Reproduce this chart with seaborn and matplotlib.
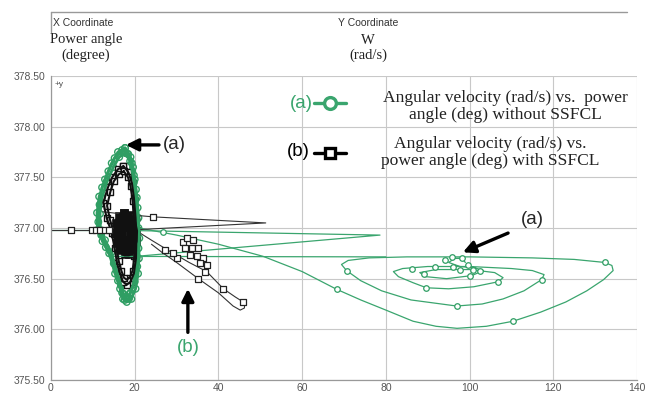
import numpy as np
import pandas as pd
import seaborn as sns
import matplotlib
matplotlib.use("Agg")
import matplotlib.pyplot as plt

sns.set_style("white")
plt.rcParams['font.family'] = ['Liberation Sans', 'DejaVu Sans']

GREEN = '#2f9e63'
GREEN_L = '#3aa56e'
BLACK = '#111111'

# ---------------- data ----------------
x_ticks = [0, 20, 40, 60, 80, 100, 120, 140]
y_ticks = [375.5, 376.0, 376.5, 377.0, 377.5, 378.0, 378.5]

# (a) without SSFCL -- green
g_flat_x = [0, 11.5]
g_flat_y = [376.98, 376.98]

g_ell1_x = [17.7, 19.0, 19.6, 20.0, 20.5, 20.9, 21.1, 21.0, 20.8, 20.2, 19.2, 18.1, 17.2, 16.5, 15.3, 13.9, 12.3, 11.1, 11.0, 11.5, 12.9, 14.5, 16.0, 17.7]
g_ell1_y = [377.79, 377.70, 377.60, 377.48, 377.30, 377.10, 376.90, 376.70, 376.55, 376.40, 376.30, 376.27, 376.30, 376.40, 376.55, 376.75, 376.87, 376.98, 377.15, 377.31, 377.48, 377.64, 377.75, 377.79]
g_ell2_x = [17.8, 18.9, 19.4, 19.8, 20.2, 20.5, 20.6, 20.5, 20.2, 19.6, 18.8, 18.0, 17.3, 16.7, 15.7, 14.4, 12.9, 11.8, 11.7, 12.2, 13.4, 14.9, 16.3, 17.8]
g_ell2_y = [377.74, 377.66, 377.56, 377.45, 377.28, 377.08, 376.90, 376.72, 376.58, 376.44, 376.35, 376.32, 376.35, 376.44, 376.58, 376.76, 376.88, 376.98, 377.14, 377.30, 377.46, 377.60, 377.70, 377.74]
g_ell3_x = [18.4, 19.3, 19.8, 20.3, 20.7, 20.9, 20.9, 20.6, 20.0, 19.0, 18.6, 17.6, 17.0, 16.0, 15.0, 13.1, 12.0, 11.3, 11.6, 12.2, 13.7, 15.2, 17.0, 18.4]
g_ell3_y = [377.73, 377.64, 377.52, 377.38, 377.20, 377.00, 376.80, 376.62, 376.47, 376.36, 376.30, 376.29, 376.36, 376.48, 376.65, 376.81, 376.93, 377.06, 377.23, 377.40, 377.56, 377.69, 377.77, 377.73]

g_spike_x = [20.3, 78.6, 19.5]
g_spike_y = [376.72, 376.93, 376.975]

g_hline_x = [14.0, 80.0]
g_hline_y = [376.72, 376.715]

g_spiral_x = [21.0, 30, 40, 50.7, 60, 68.25, 74, 80, 86.5, 92, 97, 104, 110.4, 117, 123, 128, 132, 134.3, 134, 132.3, 125, 115, 100, 85, 76, 71, 69.4, 70.6, 74, 79, 86, 96.9, 103, 108, 113, 117.2, 117.8, 115, 110, 100, 90, 84, 81.8, 83, 86.5, 89.7, 95, 101, 106.9, 108, 106, 100, 92, 88.1, 89.5, 94.5, 100.5, 103.3, 101, 97.7, 95, 96.5, 98.1, 99]
g_spiral_y = [377.0, 376.93, 376.84, 376.72, 376.57, 376.395, 376.29, 376.19, 376.08, 376.03, 376.01, 376.03, 376.08, 376.17, 376.27, 376.38, 376.49, 376.58, 376.63, 376.66, 376.69, 376.705, 376.715, 376.715, 376.705, 376.68, 376.64, 376.58, 376.48, 376.38, 376.29, 376.23, 376.25, 376.30, 376.38, 376.49, 376.54, 376.58, 376.60, 376.62, 376.62, 376.60, 376.57, 376.52, 376.46, 376.41, 376.40, 376.42, 376.47, 376.51, 376.56, 376.59, 376.59, 376.56, 376.52, 376.50, 376.53, 376.58, 376.61, 376.62, 376.66, 376.70, 376.70, 376.66]

g_mark_x = [26.8, 68.25, 70.6, 86.2, 89.1, 89.7, 91.7, 94.1, 95.7, 98.1, 96.1, 97.7, 99.7, 100.1, 100.9, 96.9, 106.9, 110.4, 117.2, 132.3, 102.5]
g_mark_y = [376.96, 376.395, 376.58, 376.60, 376.55, 376.41, 376.62, 376.68, 376.71, 376.70, 376.62, 376.59, 376.63, 376.53, 376.59, 376.23, 376.47, 376.08, 376.49, 376.66, 376.58]

# (b) with SSFCL -- black
b_flat_x = [0, 14.0]
b_flat_y = [376.98, 376.98]
b_flat_mx = [4.8, 9.8, 10.8, 11.8, 12.8, 13.8]
b_flat_my = [376.98, 376.98, 376.98, 376.98, 376.98, 376.98]

b_ell1_x = [17.3, 18.5, 19.3, 19.8, 20.2, 20.4, 20.3, 19.8, 19.0, 18.1, 17.2, 16.5, 15.8, 15.2, 14.5, 13.3, 12.5, 13.6, 14.6, 16.0, 17.3]
b_ell1_y = [377.61, 377.55, 377.45, 377.30, 377.10, 376.90, 376.70, 376.55, 376.47, 376.44, 376.47, 376.55, 376.65, 376.80, 376.95, 377.10, 377.25, 377.40, 377.50, 377.58, 377.61]
b_ell2_x = [17.4, 18.4, 19.0, 19.5, 19.8, 20.0, 19.9, 19.5, 18.8, 18.1, 17.4, 16.8, 16.2, 15.7, 15.1, 14.1, 13.4, 14.2, 15.0, 16.2, 17.4]
b_ell2_y = [377.56, 377.50, 377.41, 377.27, 377.08, 376.90, 376.72, 376.58, 376.51, 376.49, 376.51, 376.58, 376.67, 376.80, 376.94, 377.08, 377.22, 377.36, 377.46, 377.53, 377.56]

b_blob1_x = [17.5, 18.8, 19.8, 20.3, 20.2, 19.6, 18.6, 17.6, 16.6, 15.8, 15.3, 15.5, 16.3, 17.5]
b_blob1_y = [377.15, 377.13, 377.07, 376.97, 376.87, 376.79, 376.74, 376.74, 376.78, 376.85, 376.95, 377.05, 377.12, 377.15]
b_blob2_x = [17.6, 18.7, 19.4, 19.6, 19.2, 18.4, 17.5, 16.7, 16.2, 16.4, 17.0, 17.6]
b_blob2_y = [377.09, 377.06, 377.00, 376.92, 376.84, 376.80, 376.79, 376.83, 376.92, 377.01, 377.07, 377.09]
b_blob3_x = [17.7, 18.5, 18.9, 18.6, 17.8, 17.1, 16.9, 17.2, 17.7]
b_blob3_y = [377.03, 377.01, 376.95, 376.88, 376.85, 376.88, 376.95, 377.01, 377.03]

b_spike_x = [12.4, 18.9, 24.4, 51.3, 19.0]
b_spike_y = [377.16, 377.13, 377.11, 377.05, 376.98]

b_loop_x = [20.5, 24.0, 28.4, 33.0, 37.2, 41.2, 44.0, 46.3, 46.2, 45.2, 43.5, 40.0, 35.2, 30.0, 26.5, 24.0]
b_loop_y = [376.97, 376.88, 376.77, 376.66, 376.57, 376.40, 376.32, 376.26, 376.21, 376.19, 376.23, 376.36, 376.50, 376.66, 376.76, 376.84]

b_mark_x = [24.4, 27.2, 30.0, 29.2, 31.6, 32.4, 34.0, 32.0, 33.6, 35.2, 33.2, 34.8, 36.4, 35.6, 37.2, 36.8, 35.2, 41.2, 45.9]
b_mark_y = [377.11, 376.78, 376.70, 376.75, 376.86, 376.90, 376.88, 376.80, 376.80, 376.80, 376.73, 376.72, 376.70, 376.65, 376.63, 376.57, 376.50, 376.40, 376.27]


def seg_df(pairs):
    rows = []
    for name, xs, ys in pairs:
        for i, (xv, yv) in enumerate(zip(xs, ys)):
            rows.append({'x': xv, 'y': yv, 'seg': name, 'i': i})
    return pd.DataFrame(rows)


fig = plt.figure(figsize=(6.48, 3.94), dpi=100)
ax = fig.add_axes([51/648, 1-380/394, 586/648, 304/394])

# green thin lines
g_lines = seg_df([('flat', g_flat_x, g_flat_y), ('spike', g_spike_x, g_spike_y),
                  ('hline', g_hline_x, g_hline_y), ('spiral', g_spiral_x, g_spiral_y)])
sns.lineplot(data=g_lines, x='x', y='y', units='seg', estimator=None, sort=False,
             color=GREEN_L, lw=0.9, ax=ax, legend=False)

# black thin lines
b_lines = seg_df([('flat', b_flat_x, b_flat_y), ('spike', b_spike_x, b_spike_y),
                  ('loop', b_loop_x, b_loop_y)])
sns.lineplot(data=b_lines, x='x', y='y', units='seg', estimator=None, sort=False,
             color='#333333', lw=0.8, ax=ax, legend=False)

# green ellipse
g_ell = seg_df([('e1', g_ell1_x, g_ell1_y), ('e2', g_ell2_x, g_ell2_y), ('e3', g_ell3_x, g_ell3_y)])
sns.lineplot(data=g_ell, x='x', y='y', units='seg', estimator=None, sort=False,
             color=GREEN, lw=2.0, ax=ax, legend=False)
sns.scatterplot(data=g_ell, x='x', y='y', marker='o', s=22, facecolor='none',
                edgecolor=GREEN, linewidth=1.0, ax=ax, legend=False)

# black ellipse
b_ell = seg_df([('e1', b_ell1_x, b_ell1_y), ('e2', b_ell2_x, b_ell2_y)])
sns.lineplot(data=b_ell, x='x', y='y', units='seg', estimator=None, sort=False,
             color=BLACK, lw=1.5, ax=ax, legend=False)
sns.scatterplot(data=b_ell, x='x', y='y', marker='s', s=18, facecolor='white',
                edgecolor=BLACK, linewidth=1.0, ax=ax, legend=False)

# black dense blob
b_blob = seg_df([('k1', b_blob1_x, b_blob1_y), ('k2', b_blob2_x, b_blob2_y), ('k3', b_blob3_x, b_blob3_y)])
sns.lineplot(data=b_blob, x='x', y='y', units='seg', estimator=None, sort=False,
             color=BLACK, lw=3, ax=ax, legend=False)
sns.scatterplot(data=b_blob, x='x', y='y', marker='s', s=30, color=BLACK,
                edgecolor=BLACK, ax=ax, legend=False)

# sparse markers
sns.scatterplot(x=g_mark_x, y=g_mark_y, marker='o', s=16, facecolor='white',
                edgecolor=GREEN, linewidth=0.9, ax=ax, legend=False, zorder=4)
sns.scatterplot(x=b_mark_x, y=b_mark_y, marker='s', s=18, facecolor='white',
                edgecolor='#222222', linewidth=0.9, ax=ax, legend=False, zorder=4)
sns.scatterplot(x=b_flat_mx, y=b_flat_my, marker='s', s=18, facecolor='white',
                edgecolor='#222222', linewidth=0.9, ax=ax, legend=False, zorder=4)

# axes styling
ax.set_xlim(0, 140)
ax.set_ylim(375.5, 378.5)
ax.set_xticks(x_ticks)
ax.set_yticks(y_ticks)
ax.set_xticklabels([str(v) for v in x_ticks])
ax.set_yticklabels([f'{v:.2f}' for v in y_ticks])
ax.grid(True, color='#c8c8c8', lw=0.8)
ax.set_axisbelow(True)
for s in ['top', 'right']:
    ax.spines[s].set_visible(False)
for s in ['left', 'bottom']:
    ax.spines[s].set_color('#999999')
    ax.spines[s].set_linewidth(0.9)
ax.tick_params(axis='both', colors='#999999', labelcolor='#555555', labelsize=7.5,
               length=3, width=0.8, pad=1)
ax.tick_params(axis='x', pad=0, length=2)
ax.set_xlabel('')
ax.set_ylabel('')
ax.text(0.006, 0.985, '+y', transform=ax.transAxes, fontsize=6, color='#555555',
        va='top', ha='left')

# annotations
arrow = dict(arrowstyle='-|>', lw=2.4, color='black', mutation_scale=18, shrinkA=0, shrinkB=0)
ax.annotate('', xy=(17.9, 377.82), xytext=(25.8, 377.82), arrowprops=arrow)
ax.text(26.8, 377.82, '(a)', fontsize=13.5, va='center', ha='left')
ax.annotate('', xy=(98.4, 376.76), xytext=(109.2, 376.95), arrowprops=arrow)
ax.text(115.1, 377.08, '(a)', fontsize=13.5, va='center', ha='center')
ax.annotate('', xy=(32.7, 376.40), xytext=(32.7, 375.97), arrowprops=arrow)
ax.text(32.7, 375.82, '(b)', fontsize=13.5, va='center', ha='center', color=GREEN_L)

# legend drawn in axes fraction
ax.text(0.4266, 0.911, '(a)', transform=ax.transAxes, fontsize=13.5, color=GREEN_L,
        ha='center', va='center')
ax.plot([0.449, 0.503], [0.911, 0.911], transform=ax.transAxes, color=GREEN_L, lw=2.4)
ax.plot([0.476], [0.911], transform=ax.transAxes, marker='o', ms=8.5, mfc='white',
        mec=GREEN_L, mew=2.4)
ax.text(0.775, 0.9, 'Angular velocity (rad/s) vs.  power\nangle (deg) without SSFCL',
        transform=ax.transAxes, fontsize=12.6, family='Liberation Serif', ha='center',
        va='center', linespacing=1.08, color='#222222')
ax.text(0.4215, 0.750, '(b)', transform=ax.transAxes, fontsize=13.5, color='black',
        ha='center', va='center')
ax.plot([0.449, 0.503], [0.747, 0.747], transform=ax.transAxes, color='black', lw=2.4)
ax.plot([0.476], [0.747], transform=ax.transAxes, marker='s', ms=7, mfc='white',
        mec='black', mew=2.4)
ax.text(0.749, 0.747, 'Angular velocity (rad/s) vs.\npower angle (deg) with SSFCL',
        transform=ax.transAxes, fontsize=12.6, family='Liberation Serif', ha='center',
        va='center', linespacing=1.08, color='#222222')

# header
fig.add_artist(plt.Line2D([51/648, 627/648], [1-12/394, 1-12/394], color='#999999', lw=1.0))
fig.add_artist(plt.Line2D([51/648, 51/648], [1-12/394, 1-32/394], color='#999999', lw=1.0))
fig.text(53/648, 1-23/394, 'X Coordinate', fontsize=7.5, color='#333333', va='center', ha='left')
fig.text(368/648, 1-23/394, 'Y Coordinate', fontsize=7.5, color='#333333', va='center', ha='center')
fig.text(86/648, 1-40/394, 'Power angle', fontsize=10.5, family='Liberation Serif',
         va='center', ha='center', color='#222222')
fig.text(86/648, 1-55/394, '(degree)', fontsize=10.5, family='Liberation Serif',
         va='center', ha='center', color='#222222')
fig.text(368/648, 1-40/394, 'W', fontsize=10.5, family='Liberation Serif',
         va='center', ha='center', color='#222222')
fig.text(368/648, 1-55/394, '(rad/s)', fontsize=10.5, family='Liberation Serif',
         va='center', ha='center', color='#222222')

fig.savefig('out.png', dpi=100)
